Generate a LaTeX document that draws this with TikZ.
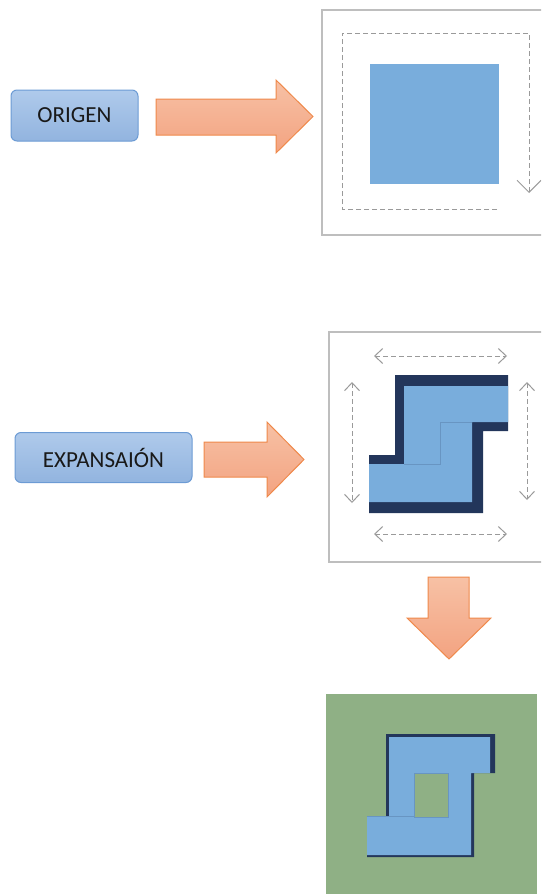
\documentclass[tikz,border=0pt]{standalone}
\usepackage{fontspec}
\setmainfont{Carlito}
\usetikzlibrary{arrows.meta}

\definecolor{boxtop}{HTML}{AFCAEB}
\definecolor{boxbot}{HTML}{92B4DF}
\definecolor{boxline}{HTML}{6C9BD4}
\definecolor{arrtop}{HTML}{F7C1A5}
\definecolor{arrbot}{HTML}{F3A381}
\definecolor{arrline}{HTML}{EF894B}
\definecolor{piece}{HTML}{79ADDC}
\definecolor{navy}{HTML}{23365B}
\definecolor{field}{HTML}{8FB085}
\definecolor{panelgray}{HTML}{BEBEBE}
\definecolor{guidegray}{HTML}{9A9A9A}

\tikzset{
  labelbox/.style={draw=boxline, line width=1pt, rounded corners=6pt,
    top color=boxtop, bottom color=boxbot, text=black!90, inner sep=0pt,
    font=\fontsize{23}{27}\selectfont},
  bigarrow/.style={draw=arrline, line width=1pt, top color=arrtop, bottom color=arrbot},
  panel/.style={draw=panelgray, line width=1.5pt},
  guide/.style={draw=guidegray, line width=1pt, dash pattern=on 5pt off 3pt},
  barb/.tip={Straight Barb[length=8pt, width=15pt]},
  bigbarb/.tip={Straight Barb[length=12pt, width=24pt]},
  edge/.style={draw=piece!80!navy, line width=0.6pt},
}

\begin{document}
\begin{tikzpicture}[x=1pt, y=-1pt, line join=miter]
  \useasboundingbox (0,0) rectangle (541,894);
  \clip (0,0) rectangle (541,894);

  % === ORIGEN ===
  \node[labelbox, minimum width=127pt, minimum height=51pt] (origen) at (74.5,115.5) {ORIGEN};
  \draw[bigarrow] (156,99) -- (276,99) -- (276,80) -- (313,116.5)
    -- (276,153) -- (276,135) -- (156,135) -- cycle;

  \draw[panel] (322,10) rectangle (560,235);
  \draw[guide, -bigbarb]
    (497,209) -- (342,209) -- (342,33) -- (529,33) -- (529,193);
  \fill[piece] (370,64) rectangle (499,184);

  % === EXPANSAION ===
  \node[labelbox, minimum width=177pt, minimum height=50pt] (expansion) at (103.5,457.5) {EXPANSAIÓN};
  \draw[bigarrow] (204,442) -- (267,442) -- (267,422) -- (304,459.5)
    -- (267,497) -- (267,477) -- (204,477) -- cycle;

  \draw[panel] (329,332) rectangle (560,562);
  \draw[guide, barb-barb] (374,356) -- (507,356);
  \draw[guide, barb-barb] (374,534) -- (507,534);
  \draw[guide, barb-barb] (352,382) -- (352,503);
  \draw[guide, barb-barb] (527,382) -- (527,500);

  % pieza expandida
  \fill[navy] (395,375) -- (508,375) -- (508,431) -- (483,431) -- (483,513)
    -- (369,513) -- (369,455) -- (395,455) -- cycle;
  \fill[piece] (404,386) -- (508,386) -- (508,422) -- (472,422) -- (472,502)
    -- (369,502) -- (369,464) -- (404,464) -- cycle;
  \draw[edge] (404,464) -- (440,464) -- (440,422) -- (472,422);

  % === RESULTADO ===
  \draw[bigarrow] (428,577) -- (469,577) -- (469,618) -- (491,618) -- (449,659)
    -- (407,618) -- (428,618) -- cycle;

  \fill[field] (326,694) rectangle (537,900);
  \fill[navy] (386,734) -- (495,734) -- (495,773) -- (474,773) -- (474,857)
    -- (367,857) -- (367,816) -- (386,816) -- cycle;
  \fill[piece] (389,737) -- (490,737) -- (490,773) -- (471,773) -- (471,855)
    -- (367,855) -- (367,816) -- (389,816) -- cycle;
  \filldraw[fill=field, edge] (414,773) rectangle (448,817);
  \draw[edge] (367,816) -- (414,816);
\end{tikzpicture}
\end{document}
